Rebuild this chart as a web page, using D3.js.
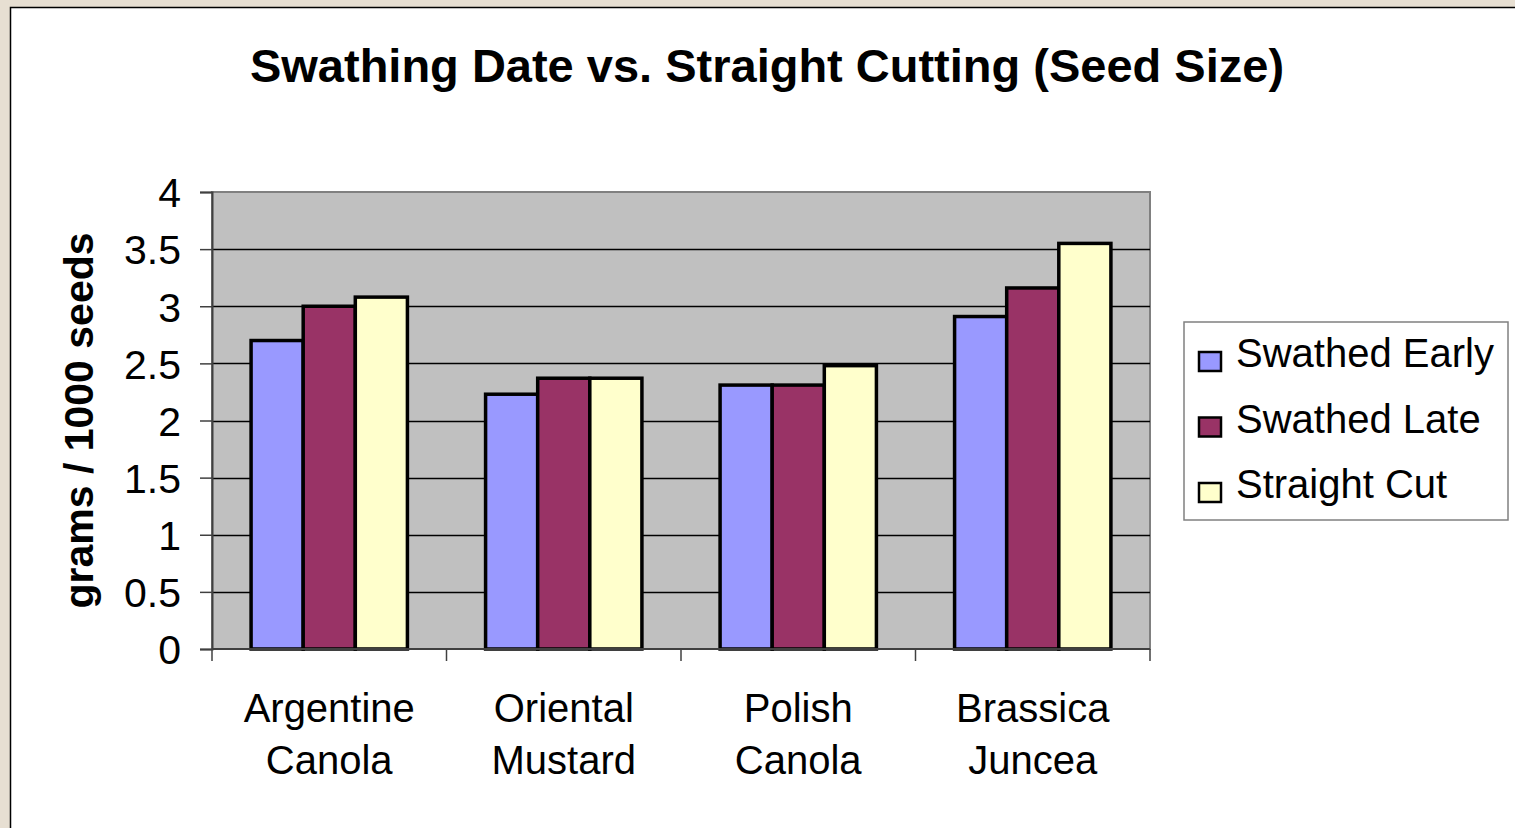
<!DOCTYPE html>
<html>
<head>
<meta charset="utf-8">
<script src="https://cdn.jsdelivr.net/npm/d3@7"></script>
<style>
  html, body { margin: 0; padding: 0; background: #e7dfd2; }
  svg { display: block; }
  text { font-family: "Liberation Sans", Arial, sans-serif; fill: #000; }
</style>
</head>
<body>
<svg id="chart" width="1515" height="828"></svg>
<script>
const categories = [["Argentine", "Canola"], ["Oriental", "Mustard"], ["Polish", "Canola"], ["Brassica", "Juncea"]];
const seriesNames = ["Swathed Early", "Swathed Late", "Straight Cut"];
const swathedEarly = [2.70, 2.23, 2.31, 2.91];
const swathedLate = [3.00, 2.37, 2.31, 3.16];
const straightCut = [3.08, 2.37, 2.48, 3.55];
const seriesColors = ["#9999ff", "#993366", "#ffffcc"];
const yTicks = [0, 0.5, 1, 1.5, 2, 2.5, 3, 3.5, 4];
const titleText = "Swathing Date vs. Straight Cutting (Seed Size)";
const yTitle = "grams / 1000 seeds";

const seriesValues = [swathedEarly, swathedLate, straightCut];
const catKeys = categories.map(c => c.join(" "));

const svg = d3.select("#chart");

// background chart area (white with border)
svg.append("rect").attr("x", 10.5).attr("y", 7.5).attr("width", 1520).attr("height", 840)
  .attr("fill", "#fff").attr("stroke", "#000").attr("stroke-width", 1.5);

const plot = { left: 212, right: 1150, top: 192, bottom: 649 };

const x0 = d3.scaleBand().domain(catKeys).range([plot.left, plot.right]).padding(0);
const x1 = d3.scaleBand().domain(seriesNames).range([0, x0.bandwidth()]).paddingInner(0).paddingOuter(0.75);
const y = d3.scaleLinear().domain([0, 4]).range([plot.bottom, plot.top]);

// plot area
svg.append("rect").attr("x", plot.left).attr("y", plot.top)
  .attr("width", plot.right - plot.left).attr("height", plot.bottom - plot.top)
  .attr("fill", "#c0c0c0").attr("stroke", "#808080").attr("stroke-width", 2);

// gridlines
svg.append("g").selectAll("line").data(yTicks.filter(t => t > 0 && t < 4)).join("line")
  .attr("x1", plot.left).attr("x2", plot.right)
  .attr("y1", d => Math.round(y(d)) + 0.5).attr("y2", d => Math.round(y(d)) + 0.5)
  .attr("stroke", "#000").attr("stroke-width", 1.3);

// bars
const groups = svg.append("g").selectAll("g").data(catKeys).join("g")
  .attr("transform", d => `translate(${x0(d)},0)`);
groups.selectAll("rect").data((d, i) => seriesNames.map((s, j) => ({ s, j, v: seriesValues[j][i] })))
  .join("rect")
  .attr("x", d => x1(d.s))
  .attr("y", d => y(d.v))
  .attr("width", x1.bandwidth())
  .attr("height", d => y(0) - y(d.v))
  .attr("fill", d => seriesColors[d.j])
  .attr("stroke", "#000").attr("stroke-width", 3.5);

// y axis
const yAxis = d3.axisLeft(y).tickValues(yTicks).tickFormat(d3.format("")).tickSize(12).tickPadding(19);
const gy = svg.append("g").attr("transform", `translate(${plot.left},0)`).call(yAxis);
gy.select(".domain").attr("stroke", "#404040").attr("stroke-width", 2);
gy.selectAll(".tick line").attr("stroke", "#404040").attr("stroke-width", 1.5);
gy.selectAll(".tick text").attr("font-size", 41).attr("font-family", "Liberation Sans, Arial, sans-serif")
  .attr("dy", "0.36em");

// x axis
const xTickPos = d3.range(catKeys.length + 1).map(i => plot.left + i * x0.step());
const gx = svg.append("g");
gx.append("line").attr("x1", plot.left).attr("x2", plot.right).attr("y1", plot.bottom).attr("y2", plot.bottom)
  .attr("stroke", "#404040").attr("stroke-width", 2);
gx.selectAll("line.tk").data(xTickPos).join("line").attr("class", "tk")
  .attr("x1", d => d).attr("x2", d => d).attr("y1", plot.bottom).attr("y2", plot.bottom + 12)
  .attr("stroke", "#404040").attr("stroke-width", 1.5);
const xl = gx.selectAll("text").data(categories).join("text")
  .attr("x", (d, i) => x0(catKeys[i]) + x0.bandwidth() / 2)
  .attr("y", 722)
  .attr("text-anchor", "middle").attr("font-size", 40);
xl.selectAll("tspan").data(d => d).join("tspan")
  .attr("x", function () { return d3.select(this.parentNode).attr("x"); })
  .attr("dy", (d, i) => i === 0 ? 0 : 52)
  .text(d => d);

// title
svg.append("text").attr("x", 767).attr("y", 82).attr("text-anchor", "middle")
  .attr("font-size", 47).attr("font-weight", "bold").text(titleText);

// y title
svg.append("text").attr("transform", `translate(93,${(plot.top + plot.bottom) / 2}) rotate(-90)`)
  .attr("text-anchor", "middle").attr("font-size", 41).attr("font-weight", "bold").text(yTitle);

// legend
const lg = svg.append("g");
lg.append("rect").attr("x", 1184).attr("y", 322).attr("width", 324).attr("height", 198)
  .attr("fill", "#fff").attr("stroke", "#808080").attr("stroke-width", 1.5);
const items = lg.selectAll("g").data(seriesNames).join("g")
  .attr("transform", (d, i) => `translate(0,${367 + i * 65.5})`);
items.append("rect").attr("x", 1199).attr("y", -15).attr("width", 22).attr("height", 19)
  .attr("fill", (d, i) => seriesColors[i]).attr("stroke", "#000").attr("stroke-width", 2.5);
items.append("text").attr("x", 1236).attr("y", 0).attr("font-size", 40).text(d => d);
</script>
</body>
</html>
